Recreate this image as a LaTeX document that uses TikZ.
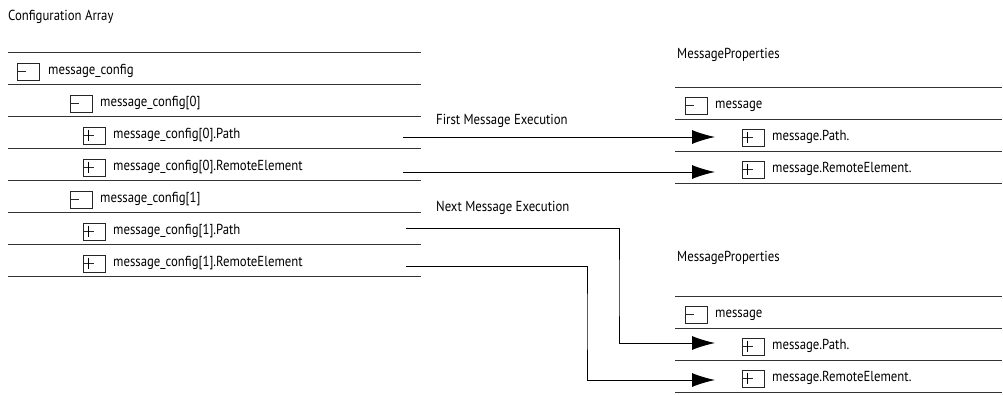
\documentclass[tikz,border=0pt]{standalone}
\usepackage{fontspec}
\setmainfont[FakeStretch=0.88]{PT Sans}
\usetikzlibrary{arrows.meta}
\begin{document}
\begin{tikzpicture}[x=1pt,y=-1pt,
  rule/.style={line width=0.9pt, draw=black!80},
  boxline/.style={line width=0.8pt, draw=black!85},
  lbl/.style={anchor=base west, inner sep=0pt, font=\fontsize{14.5}{16}\selectfont},
  link/.style={line width=0.9pt, draw=black, -{Latex[length=23pt,width=14pt]}},
  mbox/.pic={\draw[boxline] (0,0) rectangle (22,17); \draw[boxline] (0,8.5) -- (9,8.5);},
  pbox/.pic={\draw[boxline] (0,0) rectangle (22,17); \draw[boxline] (0,8.5) -- (11,8.5); \draw[line width=1.1pt, draw=black] (5.5,2.5) -- (5.5,14);}
]
\useasboundingbox (0,0) rectangle (1003,394);

% titles
\node[lbl] (tca) at (8,20) {Configuration Array};
\node[lbl] (tmp1) at (677,58) {MessageProperties};
\node[lbl] (tmp2) at (677,261) {MessageProperties};
\node[lbl] (tfirst) at (436,124) {First Message Execution};
\node[lbl] (tnext) at (436,211) {Next Message Execution};

% left table rules
\foreach \y in {52,84,116,148,180,212,244,276}
  \draw[rule] (8,\y) -- (421,\y);

% left table rows
\pic at (17,63) {mbox};
\node[lbl] (r0) at (48,74) {message\_config};
\pic at (70,95) {mbox};
\node[lbl] (r1) at (100,106) {message\_config[0]};
\pic at (83,127) {pbox};
\node[lbl] (r2) at (113,138) {message\_config[0].Path};
\pic at (83,159) {pbox};
\node[lbl] (r3) at (113,170) {message\_config[0].RemoteElement};
\pic at (70,191) {mbox};
\node[lbl] (r4) at (100,202) {message\_config[1]};
\pic at (83,223) {pbox};
\node[lbl] (r5) at (113,234) {message\_config[1].Path};
\pic at (83,255) {pbox};
\node[lbl] (r6) at (113,266) {message\_config[1].RemoteElement};

% right top table
\foreach \y in {87,119,151,183}
  \draw[rule] (675,\y) -- (1002,\y);
\pic at (685,97) {mbox};
\node[lbl] (m1) at (715,108) {message};
\pic at (742,129) {pbox};
\node[lbl] (m1p) at (772,140) {message.Path.};
\pic at (742,161) {pbox};
\node[lbl] (m1r) at (772,172) {message.RemoteElement.};

% right bottom table
\foreach \y in {296,328,360,392}
  \draw[rule] (675,\y) -- (1002,\y);
\pic at (685,306) {mbox};
\node[lbl] (m2) at (715,317) {message};
\pic at (742,338) {pbox};
\node[lbl] (m2p) at (772,349) {message.Path.};
\pic at (742,370) {pbox};
\node[lbl] (m2r) at (772,381) {message.RemoteElement.};

% connectors
\coordinate (s1) at (403,137);
\coordinate (t1) at (715,137);
\coordinate (s2) at (403,172);
\coordinate (t2) at (715,172);
\coordinate (s3) at (406,228);
\coordinate (b3) at (619,290);
\coordinate (t3) at (715,343);
\coordinate (s4) at (406,266);
\coordinate (b4) at (587,320);
\coordinate (t4) at (715,380);

\draw[link] (s1) -- (t1);
\draw[link] (s2) -- (t2);
\draw[link] (s3) -| (b3) |- (t3);
\draw[link] (s4) -| (b4) |- (t4);
\end{tikzpicture}
\end{document}
